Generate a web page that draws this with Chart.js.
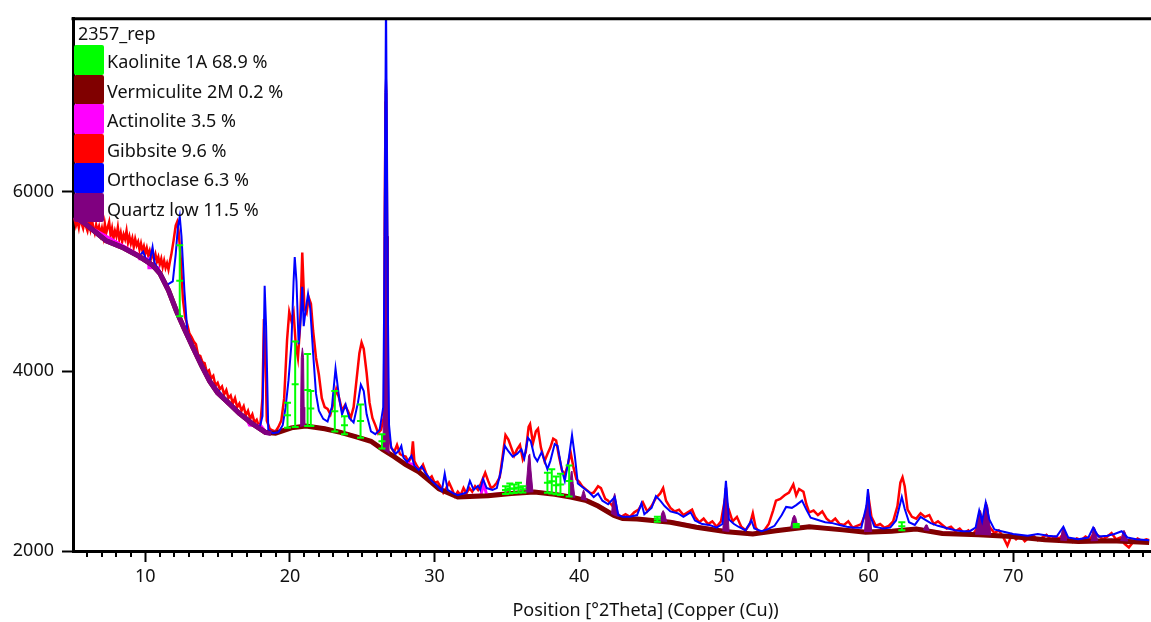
<!DOCTYPE html>
<html>
<head>
<meta charset="utf-8">
<script src="https://cdn.jsdelivr.net/npm/chart.js@4.4.1/dist/chart.umd.min.js"></script>
<style>
    html, body { margin: 0; padding: 0; overflow: hidden; background: #fff; }
    #wrap { position: relative; width: 1224px; height: 622px; }
    #legend { position: absolute; left: 74px; top: 21px; font-family: "Noto Sans", sans-serif; font-size: 18px; color: #111; }
    #legend .ttl { height: 24px; line-height: 24px; padding-left: 4px; }
    #legend .row { display: flex; align-items: center; height: 29.5px; }
    #legend .sw { width: 30px; height: 29.5px; border-radius: 2px; }
    #legend .lbl { margin-left: 3px; padding-top: 3px; line-height: 24px; }
</style>
</head>
<body>
<div id="wrap">
    <canvas id="chart" width="1224" height="622"></canvas>
    <div id="legend"></div>
</div>
<script>
const legendTitle = '2357_rep';
const phaseNames = ['Kaolinite 1A 68.9 %', 'Vermiculite 2M 0.2 %', 'Actinolite 3.5 %', 'Gibbsite 9.6 %', 'Orthoclase 6.3 %', 'Quartz low 11.5 %'];
const phaseColors = ['#00ff00', '#800000', '#ff00ff', '#ff0000', '#0000ff', '#800080'];

const xTitle = 'Position [°2Theta] (Copper (Cu))';
const xMajorTicks = [10, 20, 30, 40, 50, 60, 70];
const yTicks = [2000, 4000, 6000];

// background line [2theta, counts]
const background = [
    [5.1, 5720], [5.85, 5640], [7.3, 5450], [8.5, 5370], [9.6, 5275], [10.5, 5180], [11.0, 5090],
    [11.6, 4900], [12.15, 4670], [12.7, 4470], [13.3, 4260], [13.9, 4060], [14.45, 3890], [15.0, 3760],
    [15.6, 3670], [16.5, 3530], [17.4, 3415], [18.3, 3320], [19.0, 3310], [20.1, 3370], [21.1, 3390],
    [22.4, 3360], [23.5, 3320], [24.7, 3265], [25.6, 3220], [26.4, 3130], [27.2, 3050], [28.0, 2960],
    [28.9, 2880], [29.8, 2760], [30.3, 2690], [31.6, 2600], [33.7, 2615], [35.3, 2640], [36.9, 2655],
    [38.3, 2630], [39.4, 2600], [40.5, 2560], [41.3, 2500], [42.4, 2395], [43.0, 2360], [44.0, 2355],
    [46.3, 2320], [48.1, 2265], [50.2, 2215], [52.0, 2190], [53.6, 2225], [55.9, 2270], [58.2, 2235],
    [59.8, 2210], [61.6, 2220], [63.3, 2245], [65.1, 2195], [67.6, 2180], [69.9, 2160], [72.2, 2125],
    [74.5, 2105], [76.8, 2115], [79.4, 2095]
];

// quartz line over the background at low angles
const quartzBase = [
    [5.1, 5720], [5.85, 5640], [7.3, 5450], [8.5, 5370], [9.6, 5275], [10.5, 5180], [11.0, 5090],
    [11.6, 4900], [12.15, 4670], [12.7, 4470], [13.3, 4260], [13.9, 4060], [14.45, 3890], [15.0, 3760],
    [15.6, 3670], [16.5, 3530], [17.4, 3415], [18.3, 3320], [18.7, 3305]
];

// measured scan (red)
const observed = [
    [5.1, 5700], [5.2, 5620], [5.3, 5680], [5.4, 5600], [5.5, 5710], [5.6, 5640], [5.7, 5590], [5.8, 5680],
    [5.9, 5610], [6.0, 5560], [6.1, 5650], [6.2, 5580], [6.3, 5700], [6.4, 5600], [6.5, 5540], [6.6, 5630],
    [6.7, 5560], [6.8, 5610], [6.9, 5520], [7.0, 5590], [7.1, 5500], [7.2, 5640], [7.3, 5540], [7.4, 5600],
    [7.5, 5660], [7.6, 5510], [7.7, 5590], [7.8, 5480], [7.9, 5560], [8.0, 5500], [8.1, 5600], [8.2, 5470],
    [8.3, 5540], [8.4, 5440], [8.5, 5520], [8.6, 5470], [8.7, 5560], [8.8, 5430], [8.9, 5500], [9.0, 5420],
    [9.1, 5480], [9.2, 5380], [9.3, 5470], [9.4, 5400], [9.5, 5440], [9.6, 5350], [9.7, 5420], [9.8, 5340],
    [9.9, 5390], [10.0, 5310], [10.1, 5370], [10.2, 5290], [10.3, 5340], [10.4, 5260], [10.5, 5330], [10.6, 5240],
    [10.7, 5300], [10.8, 5220], [10.9, 5270], [11.0, 5190], [11.1, 5250], [11.2, 5160], [11.3, 5230], [11.4, 5150],
    [11.5, 5200], [11.6, 5130], [11.7, 5220], [11.8, 5300], [11.95, 5450], [12.1, 5620], [12.2, 5660], [12.3, 5560],
    [12.45, 5250], [12.6, 4800], [12.75, 4600], [12.9, 4520], [13.05, 4420], [13.2, 4380], [13.35, 4330], [13.5, 4300],
    [13.65, 4180], [13.8, 4170], [13.95, 4100], [14.1, 4090], [14.25, 3990], [14.4, 4010], [14.55, 3920], [14.7, 3950],
    [14.85, 3840], [15.0, 3870], [15.15, 3800], [15.3, 3830], [15.45, 3740], [15.6, 3790], [15.75, 3700], [15.9, 3730],
    [16.05, 3640], [16.2, 3700], [16.35, 3600], [16.5, 3640], [16.65, 3560], [16.8, 3610], [16.95, 3510], [17.1, 3560],
    [17.25, 3470], [17.4, 3520], [17.55, 3430], [17.7, 3460], [17.85, 3390], [17.95, 3400], [18.1, 3700], [18.2, 4580],
    [18.3, 4200], [18.4, 3450], [18.6, 3360], [18.8, 3340], [19.0, 3330], [19.2, 3380], [19.4, 3450], [19.6, 3700],
    [19.8, 4350], [19.95, 4660], [20.1, 4560], [20.25, 4650], [20.4, 4300], [20.55, 4150], [20.7, 4500], [20.85, 5320],
    [21.0, 4700], [21.15, 4650], [21.3, 4820], [21.45, 4750], [21.6, 4450], [21.8, 4150], [22.0, 3960], [22.2, 3700],
    [22.4, 3600], [22.6, 3580], [22.8, 3520], [23.0, 3640], [23.2, 3800], [23.4, 3700], [23.6, 3560], [23.8, 3620],
    [24.0, 3560], [24.2, 3480], [24.4, 3600], [24.6, 3900], [24.8, 4200], [24.95, 4320], [25.1, 4250], [25.3, 3980],
    [25.5, 3650], [25.7, 3480], [25.9, 3400], [26.1, 3310], [26.3, 3350], [26.5, 3500], [26.6, 7000], [26.7, 5000],
    [26.8, 3300], [27.0, 3150], [27.2, 3100], [27.4, 3180], [27.6, 3080], [27.8, 3060], [28.0, 3050], [28.2, 2990],
    [28.4, 3050], [28.5, 3220], [28.6, 3000], [28.8, 2940], [29.0, 2900], [29.2, 2960], [29.4, 2870], [29.6, 2800],
    [29.8, 2830], [30.0, 2760], [30.2, 2770], [30.4, 2720], [30.6, 2650], [30.8, 2700], [31.0, 2760], [31.2, 2690],
    [31.4, 2610], [31.6, 2660], [31.8, 2620], [32.0, 2700], [32.2, 2640], [32.4, 2700], [32.6, 2660], [32.8, 2720],
    [33.0, 2680], [33.2, 2750], [33.5, 2870], [33.7, 2780], [33.9, 2700], [34.1, 2720], [34.3, 2760], [34.5, 2820],
    [34.7, 3050], [34.9, 3290], [35.1, 3240], [35.3, 3150], [35.5, 3060], [35.7, 3130], [35.9, 3180], [36.1, 3020],
    [36.3, 3100], [36.5, 3380], [36.6, 3410], [36.8, 3200], [37.0, 3330], [37.15, 3360], [37.35, 3150], [37.6, 3000],
    [37.8, 3080], [38.0, 3150], [38.2, 3250], [38.4, 3230], [38.6, 3050], [38.8, 2900], [39.0, 2850], [39.2, 2950],
    [39.4, 3100], [39.6, 2930], [39.8, 2800], [40.0, 2770], [40.2, 2720], [40.5, 2680], [40.8, 2640], [41.0, 2650],
    [41.3, 2720], [41.5, 2700], [41.8, 2580], [42.0, 2560], [42.3, 2500], [42.6, 2420], [42.9, 2380], [43.2, 2410],
    [43.5, 2380], [43.8, 2430], [44.1, 2460], [44.4, 2540], [44.7, 2440], [45.0, 2500], [45.3, 2590], [45.6, 2640],
    [45.8, 2700], [46.0, 2560], [46.3, 2480], [46.6, 2440], [46.9, 2460], [47.2, 2400], [47.5, 2430], [47.8, 2460],
    [48.0, 2380], [48.3, 2320], [48.6, 2360], [48.9, 2300], [49.2, 2330], [49.5, 2270], [49.8, 2330], [50.1, 2600],
    [50.3, 2480], [50.6, 2330], [50.9, 2380], [51.2, 2270], [51.5, 2230], [51.8, 2300], [52.0, 2420], [52.2, 2260],
    [52.5, 2200], [52.8, 2230], [53.1, 2300], [53.4, 2450], [53.6, 2560], [53.9, 2580], [54.2, 2620], [54.5, 2650],
    [54.8, 2740], [55.0, 2620], [55.2, 2690], [55.5, 2660], [55.7, 2520], [55.9, 2430], [56.2, 2450], [56.5, 2400],
    [56.8, 2440], [57.1, 2360], [57.4, 2320], [57.7, 2360], [58.0, 2300], [58.3, 2290], [58.6, 2330], [58.9, 2260],
    [59.2, 2280], [59.5, 2300], [59.8, 2420], [60.0, 2600], [60.2, 2380], [60.5, 2280], [60.8, 2300], [61.1, 2260],
    [61.4, 2280], [61.7, 2330], [62.0, 2500], [62.2, 2760], [62.35, 2820], [62.5, 2720], [62.7, 2460], [63.0, 2380],
    [63.3, 2360], [63.6, 2420], [63.9, 2380], [64.2, 2400], [64.5, 2300], [64.8, 2330], [65.1, 2290], [65.4, 2250],
    [65.7, 2270], [66.0, 2220], [66.3, 2250], [66.6, 2200], [66.9, 2230], [67.2, 2180], [67.5, 2250], [67.8, 2300],
    [68.1, 2350], [68.4, 2260], [68.7, 2200], [69.0, 2230], [69.3, 2160], [69.6, 2060], [69.9, 2180], [70.2, 2130],
    [70.5, 2170], [70.8, 2110], [71.1, 2150], [71.4, 2170], [71.7, 2120], [72.0, 2150], [72.3, 2180], [72.6, 2130],
    [72.9, 2160], [73.2, 2140], [73.5, 2200], [73.8, 2130], [74.1, 2100], [74.4, 2140], [74.7, 2120], [75.0, 2160],
    [75.3, 2130], [75.6, 2200], [75.9, 2170], [76.2, 2130], [76.5, 2160], [76.8, 2200], [77.1, 2130], [77.4, 2150],
    [77.7, 2080], [78.0, 2040], [78.3, 2100], [78.6, 2140], [78.9, 2110], [79.2, 2130], [79.4, 2120]
];

// calculated profile (blue)
const calculated = [
    [9.6, 5285], [9.85, 5330], [10.0, 5260], [10.3, 5220], [10.5, 5380], [10.65, 5200], [11.0, 5110], [11.5, 4960],
    [11.9, 5000], [12.1, 5300], [12.25, 5600], [12.38, 5720], [12.5, 5500], [12.7, 4900], [12.9, 4450], [13.3, 4270],
    [13.9, 4070], [14.45, 3900], [15.6, 3680], [16.5, 3545], [17.4, 3430], [17.9, 3370], [18.1, 3500], [18.25, 4950],
    [18.35, 4500], [18.5, 3350], [18.8, 3310], [19.2, 3320], [19.5, 3400], [19.7, 3600], [19.9, 3900], [20.1, 4300],
    [20.25, 5000], [20.33, 5270], [20.45, 5000], [20.6, 4300], [20.75, 4600], [20.85, 4940], [20.95, 4500], [21.1, 4700],
    [21.25, 4860], [21.4, 4700], [21.6, 4200], [21.8, 3750], [22.0, 3560], [22.3, 3470], [22.6, 3440], [22.9, 3600],
    [23.15, 4030], [23.4, 3700], [23.6, 3520], [23.85, 3630], [24.1, 3480], [24.4, 3430], [24.7, 3650], [24.9, 3850],
    [25.1, 3780], [25.3, 3520], [25.6, 3330], [25.9, 3300], [26.2, 3350], [26.45, 3600], [26.55, 5500], [26.64, 8200],
    [26.75, 5000], [26.85, 3400], [27.0, 3150], [27.3, 3080], [27.55, 3120], [27.7, 3170], [27.85, 3040], [28.1, 2990],
    [28.4, 3060], [28.6, 2950], [28.9, 2900], [29.1, 2940], [29.4, 2860], [29.8, 2780], [30.2, 2720], [30.5, 2670],
    [30.7, 2860], [30.9, 2680], [31.3, 2640], [31.6, 2620], [32.0, 2640], [32.2, 2650], [32.44, 2780], [32.7, 2680],
    [33.0, 2725], [33.15, 2680], [33.35, 2800], [33.6, 2700], [34.0, 2680], [34.3, 2700], [34.6, 2900], [34.85, 3170],
    [35.1, 3110], [35.4, 3050], [35.7, 3080], [36.0, 3130], [36.2, 3030], [36.45, 3260], [36.65, 3220], [36.9, 3050],
    [37.1, 3000], [37.4, 3100], [37.8, 2910], [38.0, 3000], [38.3, 3190], [38.5, 3170], [38.8, 2900], [39.0, 2780],
    [39.25, 3000], [39.5, 3290], [39.7, 3050], [39.9, 2750], [40.3, 2700], [40.7, 2650], [41.0, 2600], [41.3, 2640],
    [41.6, 2560], [42.0, 2520], [42.45, 2600], [42.7, 2400], [43.0, 2380], [43.5, 2380], [44.0, 2400], [44.3, 2530],
    [44.5, 2410], [45.0, 2480], [45.3, 2610], [45.6, 2560], [45.9, 2500], [46.3, 2440], [46.8, 2420], [47.2, 2380],
    [47.7, 2430], [48.0, 2340], [48.5, 2300], [49.0, 2290], [49.5, 2260], [49.9, 2300], [50.14, 2780], [50.35, 2350],
    [50.7, 2300], [51.0, 2270], [51.5, 2230], [51.9, 2340], [52.1, 2250], [52.6, 2220], [53.0, 2240], [53.5, 2280],
    [54.0, 2400], [54.3, 2490], [54.7, 2480], [55.0, 2510], [55.4, 2560], [55.7, 2460], [56.0, 2370], [56.4, 2350],
    [57.0, 2320], [57.5, 2310], [58.0, 2290], [58.5, 2270], [59.0, 2260], [59.5, 2260], [59.85, 2500], [59.96, 2690],
    [60.1, 2400], [60.4, 2270], [61.0, 2250], [61.5, 2260], [61.9, 2340], [62.15, 2500], [62.3, 2600], [62.5, 2470],
    [62.8, 2320], [63.2, 2290], [63.6, 2380], [63.9, 2350], [64.3, 2310], [64.8, 2280], [65.5, 2250], [66.0, 2230],
    [66.5, 2220], [67.0, 2220], [67.4, 2260], [67.65, 2450], [67.85, 2330], [68.1, 2540], [68.35, 2350], [68.7, 2240],
    [69.2, 2220], [70.0, 2190], [71.0, 2170], [71.7, 2190], [72.4, 2170], [73.0, 2160], [73.47, 2270], [73.8, 2150],
    [74.5, 2130], [75.2, 2150], [75.53, 2260], [75.9, 2160], [76.5, 2170], [77.0, 2190], [77.5, 2220], [77.9, 2150],
    [78.5, 2130], [79.4, 2120]
];

// quartz peaks, filled down to the background
const quartzPeaks = [
    [20.7, 3385], [20.74, 3600], [20.78, 4150], [20.86, 4260], [20.94, 4150], [20.98, 3600], [21.02, 3390], [21.03, null],
    [26.42, 3130], [26.47, 3500], [26.5, 5500], [26.56, 7100], [26.64, 7380], [26.72, 7100], [26.78, 5500], [26.81, 3500], [26.86, 3080], [26.87, null],
    [36.3, 2655], [36.42, 2900], [36.5, 3060], [36.58, 3080], [36.66, 2900], [36.8, 2655], [36.81, null],
    [39.25, 2605], [39.36, 2750], [39.44, 2880], [39.5, 2890], [39.58, 2750], [39.7, 2595], [39.71, null],
    [40.12, 2575], [40.22, 2640], [40.3, 2680], [40.38, 2640], [40.5, 2560], [40.51, null],
    [42.22, 2410], [42.34, 2580], [42.45, 2640], [42.55, 2560], [42.72, 2380], [42.73, null],
    [45.58, 2325], [45.7, 2420], [45.8, 2450], [45.9, 2420], [46.05, 2322], [46.06, null],
    [49.92, 2220], [50.01, 2450], [50.08, 2700], [50.14, 2750], [50.2, 2700], [50.27, 2450], [50.36, 2216], [50.37, null],
    [54.62, 2262], [54.76, 2370], [54.87, 2400], [54.97, 2370], [55.12, 2265], [55.13, null],
    [59.72, 2210], [59.82, 2450], [59.9, 2600], [59.96, 2640], [60.03, 2600], [60.1, 2450], [60.22, 2212], [60.23, null],
    [63.8, 2235], [63.95, 2290], [64.05, 2290], [64.2, 2228], [64.21, null],
    [67.4, 2182], [67.58, 2400], [67.74, 2450], [67.9, 2340], [68.03, 2500], [68.14, 2545], [68.26, 2480], [68.45, 2178], [68.46, null],
    [73.28, 2118], [73.4, 2250], [73.47, 2270], [73.55, 2240], [73.7, 2114], [73.71, null],
    [75.38, 2110], [75.52, 2240], [75.6, 2265], [75.68, 2240], [75.84, 2112], [75.85, null],
    [77.43, 2111], [77.58, 2210], [77.66, 2230], [77.76, 2200], [77.92, 2108]
];

// kaolinite reflections: [2theta, base, top]
const kaoliniteSticks = [
    [12.38, 4610, 5400], [19.83, 3370, 3650], [20.36, 3380, 4330], [21.22, 3390, 4190], [21.44, 3390, 3780],
    [23.1, 3330, 3780], [23.77, 3300, 3500], [24.88, 3260, 3630], [26.36, 3140, 3300],
    [34.9, 2635, 2720], [35.2, 2640, 2750], [35.5, 2645, 2740], [35.8, 2650, 2760], [36.1, 2652, 2720],
    [37.8, 2648, 2870], [38.1, 2640, 2910], [38.4, 2632, 2830], [38.7, 2622, 2860], [39.3, 2605, 2950],
    [45.4, 2325, 2380], [55.0, 2265, 2300], [62.3, 2230, 2320]
];

// actinolite trace, mostly under the background line
const actinolite = [
    [5.1, 5700], [9.5, 5300], [9.6, 5250], [10.2, 5250], [10.25, 5150], [10.9, 5150], [11.0, 5095], [11.6, 4905],
    [12.15, 4675], [12.7, 4475], [13.3, 4265], [13.9, 4065], [14.45, 3895], [15.0, 3765], [15.6, 3675], [16.5, 3535],
    [17.0, 3470], [17.2, 3400], [18.0, 3390], [18.3, 3330], [19.0, 3320], [20.1, 3375], [21.1, 3395], [22.4, 3365],
    [23.5, 3325], [24.7, 3272], [25.6, 3225], [26.4, 3140], [27.2, 3055], [28.0, 2975], [28.5, 2965], [28.9, 2885],
    [29.8, 2772], [30.3, 2695], [31.6, 2612], [33.2, 2622], [33.4, 2750], [33.6, 2622], [35.3, 2648], [36.9, 2662],
    [38.3, 2640], [39.4, 2605], [40.5, 2568], [41.3, 2508], [42.4, 2402], [43.0, 2365], [44.0, 2362], [46.3, 2328],
    [48.1, 2272], [50.2, 2222], [52.0, 2196], [53.6, 2230], [55.9, 2276], [58.2, 2242], [59.8, 2216], [61.6, 2226],
    [63.3, 2252], [65.1, 2202], [67.6, 2186], [69.9, 2166], [70.2, 2150], [70.8, 2148], [72.2, 2130], [74.5, 2110],
    [76.8, 2120], [79.4, 2100]
];

function stickLines(sticks) {
    const pts = [];
    sticks.forEach(s => {
        pts.push([s[0], s[1]], [s[0], (s[1] + s[2]) / 2], [s[0], s[2]], [s[0] + 0.01, null]);
    });
    return pts;
}

const legendEl = document.getElementById('legend');
legendEl.innerHTML = `<div class="ttl">${legendTitle}</div>` + phaseNames.map((name, i) => `
    <div class="row"><div class="sw" style="background:${phaseColors[i]}"></div><div class="lbl">${name}</div></div>
`).join('');

const minorTicks = {
    id: 'minorTicks',
    afterDraw(chart) {
        const ctx = chart.ctx;
        const area = chart.chartArea;
        const x = chart.scales.x;
        ctx.save();
        ctx.strokeStyle = '#000';
        ctx.lineWidth = 2;
        for (let v = 6; v <= 84; v++) {
            if (v % 10 === 0) continue;
            const px = Math.round(x.getPixelForValue(v));
            ctx.beginPath();
            ctx.moveTo(px, area.bottom);
            ctx.lineTo(px, area.bottom + 6);
            ctx.stroke();
        }
        ctx.lineWidth = 3;
        ctx.beginPath();
        ctx.moveTo(area.left - 1.5, area.top);
        ctx.lineTo(area.right, area.top);
        ctx.stroke();
        ctx.restore();
    }
};

Chart.defaults.font.family = '"Noto Sans", sans-serif';
Chart.defaults.font.size = 18;
Chart.defaults.color = '#111';

const line = (data, color, width, order, extra) => Object.assign({
    data: data,
    borderColor: color,
    backgroundColor: color,
    borderWidth: width,
    pointRadius: 0,
    tension: 0,
    spanGaps: false,
    fill: false,
    order: order
}, extra || {});

new Chart(document.getElementById('chart'), {
    type: 'line',
    data: {
        datasets: [
            line(observed, phaseColors[3], 2.5, 6),
            line(actinolite, phaseColors[2], 3, 5),
            line(background, phaseColors[1], 5, 4),
            line(quartzPeaks, phaseColors[5], 1, 3, { fill: { target: 2 }, backgroundColor: phaseColors[5] }),
            line(calculated, phaseColors[4], 2, 2),
            line(quartzBase, phaseColors[5], 5, 1),
            line(stickLines(kaoliniteSticks), phaseColors[0], 2, 0, {
                pointRadius: 3.5, pointStyle: 'line', pointBorderWidth: 2, pointBorderColor: phaseColors[0]
            })
        ]
    },
    options: {
        responsive: false,
        animation: false,
        devicePixelRatio: 1,
        layout: { padding: { top: 15, left: 0, right: 0, bottom: 0 } },
        plugins: {
            legend: { display: false },
            tooltip: { enabled: false }
        },
        scales: {
            x: {
                type: 'linear',
                min: 5,
                max: 84.16,
                afterBuildTicks: s => { s.ticks = xMajorTicks.map(v => ({ value: v })); },
                afterFit: s => { s.height = 71; },
                ticks: { autoSkip: false, maxRotation: 0, padding: 4, color: '#111', callback: v => String(v) },
                grid: { drawOnChartArea: false, drawTicks: true, tickLength: 11, tickWidth: 2, tickColor: '#000' },
                border: { display: true, width: 3, color: '#000' },
                title: { display: true, text: xTitle, color: '#111', padding: { top: 0, bottom: 0 } }
            },
            y: {
                type: 'linear',
                min: 2000,
                max: 7920,
                afterBuildTicks: s => { s.ticks = yTicks.map(v => ({ value: v })); },
                afterFit: s => { s.width = 73; },
                ticks: { padding: 8, color: '#111', callback: v => String(v) },
                grid: { drawOnChartArea: false, drawTicks: true, tickLength: 11, tickWidth: 2, tickColor: '#000' },
                border: { display: true, width: 3, color: '#000' }
            }
        }
    },
    plugins: [minorTicks]
});
</script>
</body>
</html>
